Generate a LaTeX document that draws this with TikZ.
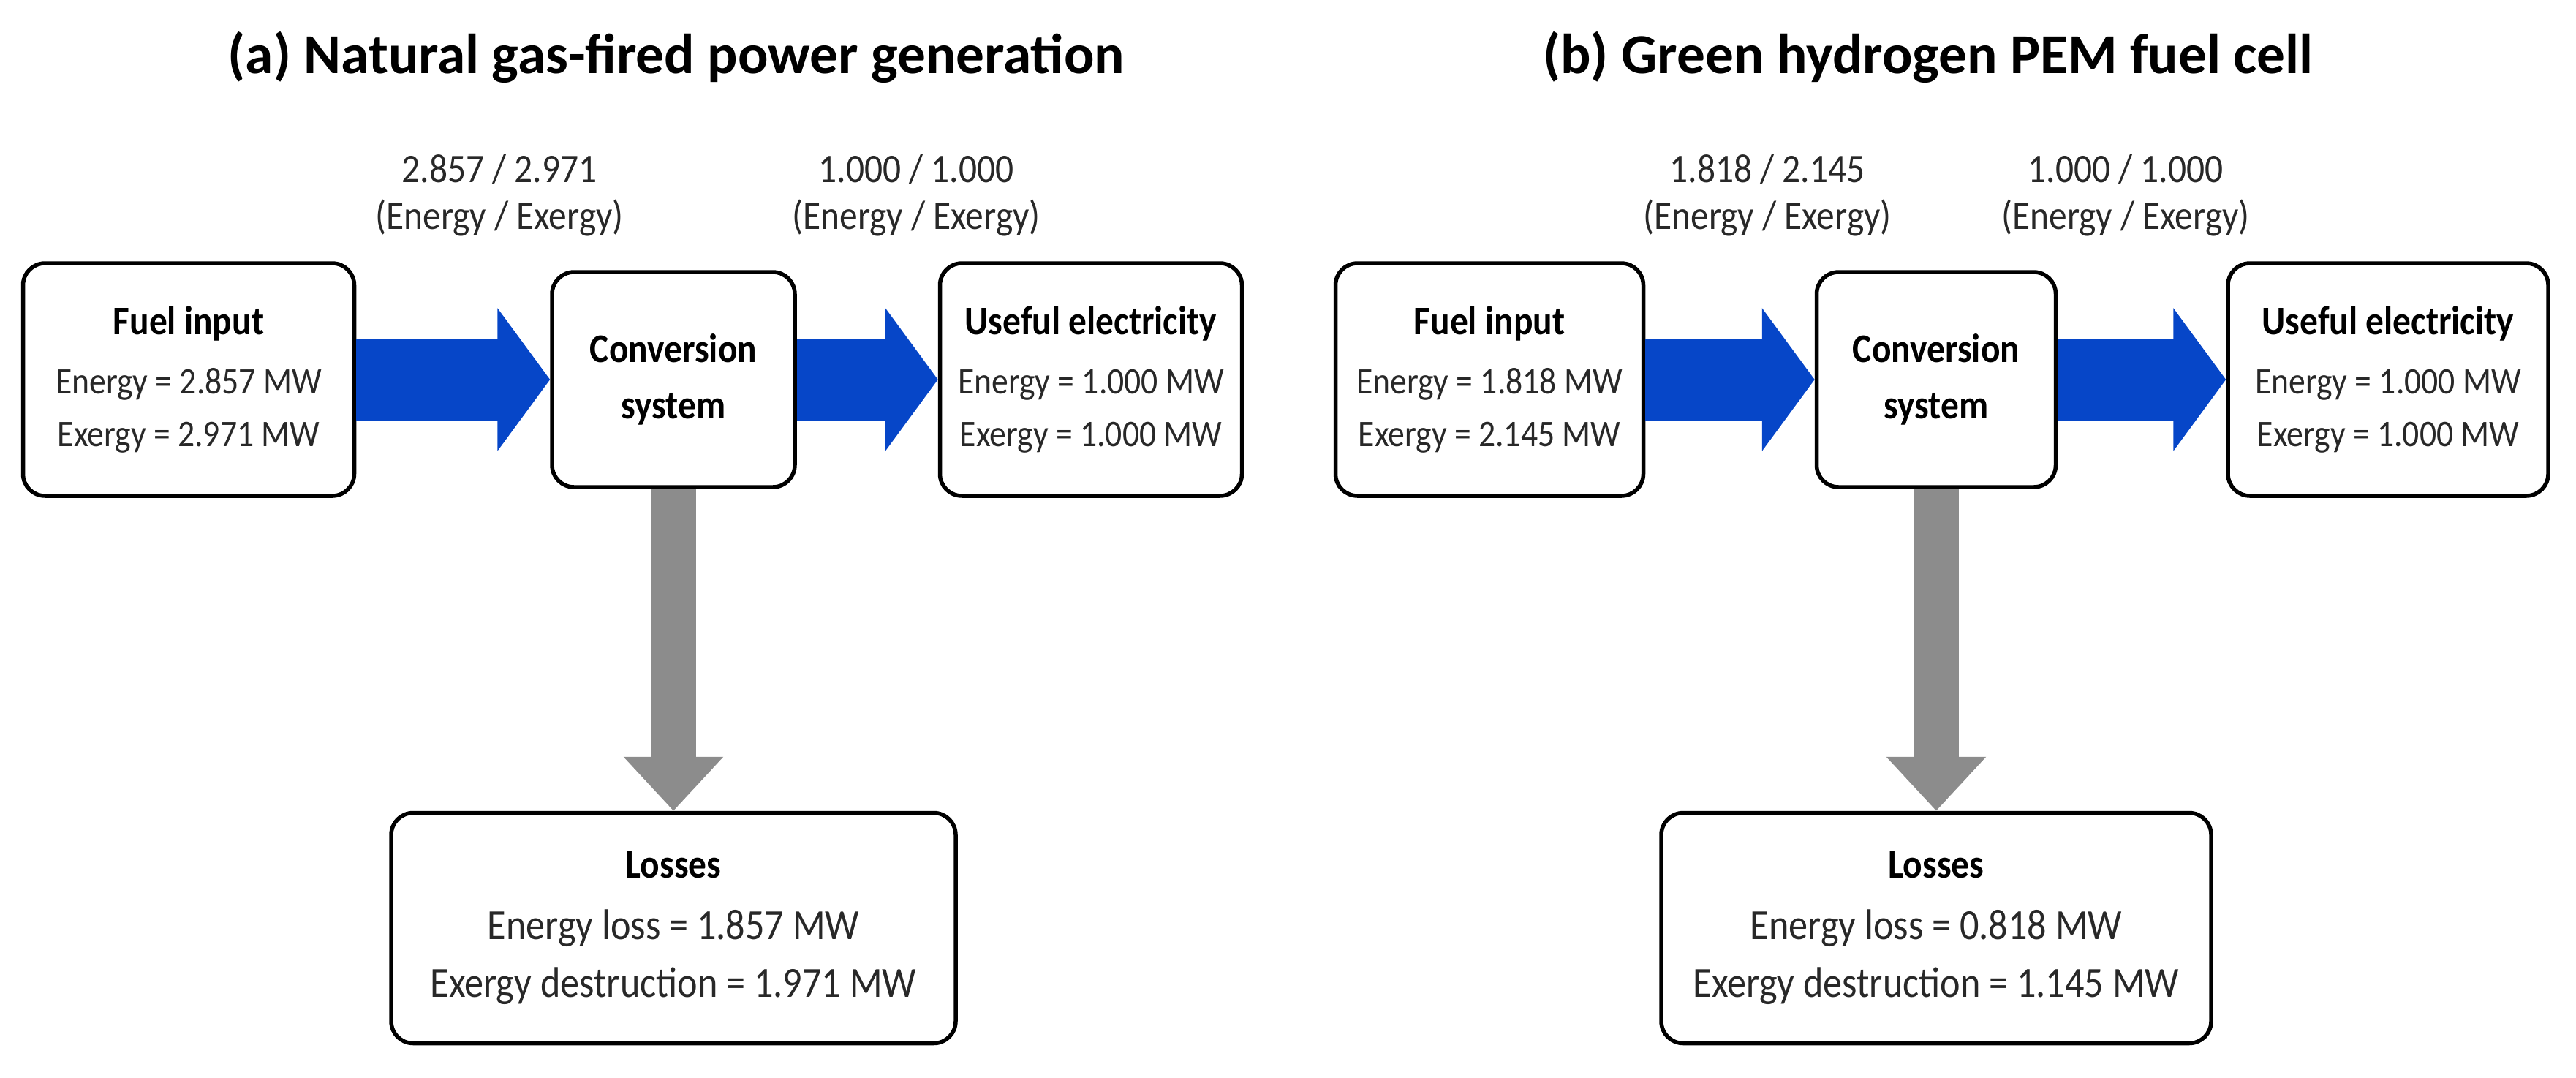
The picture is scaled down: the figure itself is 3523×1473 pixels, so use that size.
\documentclass[tikz,border=0pt]{standalone}
\usepackage{fontspec}
\setmainfont{Carlito}
\newfontfamily\narrowfont{Carlito}[FakeStretch=0.89]
\usetikzlibrary{arrows.meta}

\definecolor{flowblue}{RGB}{6,70,200}
\definecolor{lossgray}{RGB}{140,140,140}
\definecolor{txtgray}{RGB}{40,40,40}

\newcommand{\boxhead}[1]{{\color{black}\fontsize{15.8}{20}\selectfont\bfseries #1}}

\begin{document}
\begin{tikzpicture}[x=0.1mm,y=-0.1mm,
        box/.style={draw,line width=0.55mm,rounded corners=3mm,fill=white,
            inner sep=0pt,align=center,text=txtgray,
            font=\narrowfont\fontsize{14.6}{20.5}\selectfont},
        flowlabel/.style={align=center,text=txtgray,
            font=\narrowfont\fontsize{15.8}{18.2}\selectfont},
        paneltitle/.style={anchor=base,font=\fontsize{22}{26}\selectfont\bfseries},
        flowarrow/.style={draw=flowblue,line width=11.2mm,
            -{Triangle[length=7.2mm,width=19.2mm]}},
        lossarrow/.style={draw=lossgray,line width=6.2mm,
            -{Triangle[length=7.4mm,width=13.2mm]}}]
    \useasboundingbox (0,0) rectangle (3523,1473);

    % (a) natural gas
    \node[paneltitle] (titleA) at (925,100) {(a) Natural gas-fired power generation};

    \node[box,minimum width=45.3mm,minimum height=31.8mm] (fuelA) at (258,519)
        {\boxhead{Fuel input}\\[2.3pt] Energy = 2.857 MW\\ Exergy = 2.971 MW};
    \node[box,minimum width=33.2mm,minimum height=29.4mm] (convA) at (921,519)
        {\boxhead{Conversion}\\[1.3pt]\boxhead{system}};
    \node[box,minimum width=41.3mm,minimum height=31.8mm] (elecA) at (1492,519)
        {\boxhead{Useful electricity}\\[2.3pt] Energy = 1.000 MW\\ Exergy = 1.000 MW};
    \node[box,minimum width=77.2mm,minimum height=31.5mm,
        font=\narrowfont\fontsize{16.7}{22.5}\selectfont] (lossA) at (921,1269)
        {\boxhead{Losses}\\[1.4pt] Energy loss = 1.857 MW\\ Exergy destruction = 1.971 MW};

    \node[flowlabel] (flowA1) at (683,267) {2.857 / 2.971\\(Energy / Exergy)};
    \node[flowlabel] (flowA2) at (1253,267) {1.000 / 1.000\\(Energy / Exergy)};

    % (b) green hydrogen
    \node[paneltitle] (titleB) at (2637,100) {(b) Green hydrogen PEM fuel cell};

    \node[box,minimum width=42.1mm,minimum height=31.8mm] (fuelB) at (2037,519)
        {\boxhead{Fuel input}\\[2.3pt] Energy = 1.818 MW\\ Exergy = 2.145 MW};
    \node[box,minimum width=32.7mm,minimum height=29.4mm] (convB) at (2648,519)
        {\boxhead{Conversion}\\[1.3pt]\boxhead{system}};
    \node[box,minimum width=43.8mm,minimum height=31.8mm] (elecB) at (3266,519)
        {\boxhead{Useful electricity}\\[2.3pt] Energy = 1.000 MW\\ Exergy = 1.000 MW};
    \node[box,minimum width=75.2mm,minimum height=31.5mm,
        font=\narrowfont\fontsize{16.7}{22.5}\selectfont] (lossB) at (2648,1269)
        {\boxhead{Losses}\\[1.4pt] Energy loss = 0.818 MW\\ Exergy destruction = 1.145 MW};

    \node[flowlabel] (flowB1) at (2417,267) {1.818 / 2.145\\(Energy / Exergy)};
    \node[flowlabel] (flowB2) at (2907,267) {1.000 / 1.000\\(Energy / Exergy)};

    % energy flows and losses
    \foreach \a/\b in {fuelA/convA,convA/elecA,fuelB/convB,convB/elecB}{
        \draw[flowarrow] (\a) -- (\b);
    }
    \foreach \p in {A,B}{
        \draw[lossarrow] (conv\p) -- (loss\p);
    }
\end{tikzpicture}
\end{document}
